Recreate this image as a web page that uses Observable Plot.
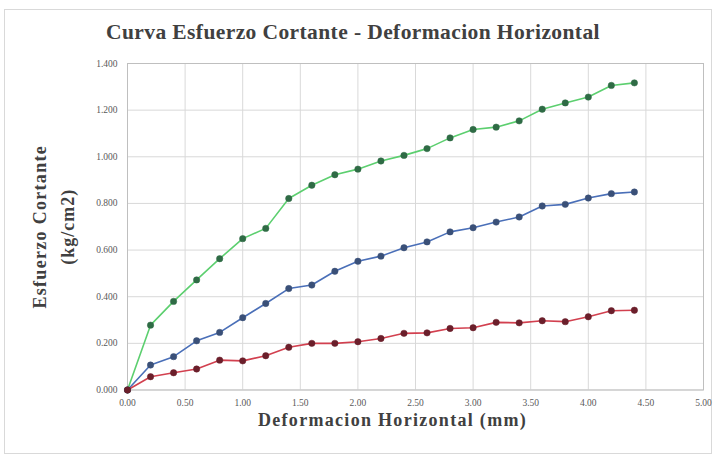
<!DOCTYPE html>
<html>
<head>
<meta charset="utf-8">
<script src="https://cdn.jsdelivr.net/npm/d3@7"></script>
<script src="https://cdn.jsdelivr.net/npm/@observablehq/plot@0.6"></script>
<style>
  html, body { margin: 0; padding: 0; background: #fff; }
  #wrap { position: relative; width: 718px; height: 461px; overflow: hidden; }
  #border { position: absolute; left: 4px; top: 9px; width: 708px; height: 445px; border: 1px solid #d9d9d9; box-sizing: border-box; }
  #title { position: absolute; left: -6px; width: 718px; top: 20px; text-align: center; letter-spacing: 0.4px;
    font-family: "Liberation Serif", serif; font-weight: bold; font-size: 21.5px; color: #404040; }
  #chart { position: absolute; left: 0; top: 0; }
</style>
</head>
<body>
<div id="wrap">
  <div id="border"></div>
  <div id="chart"></div>
  <div id="title">Curva Esfuerzo Cortante - Deformacion Horizontal</div>
</div>
<script>
const deformacion = [0, 0.2, 0.4, 0.6, 0.8, 1.0, 1.2, 1.4, 1.6, 1.8, 2.0, 2.2, 2.4, 2.6, 2.8, 3.0, 3.2, 3.4, 3.6, 3.8, 4.0, 4.2, 4.4];
const serieVerde = [0, 0.278, 0.380, 0.472, 0.563, 0.649, 0.693, 0.821, 0.878, 0.923, 0.947, 0.982, 1.006, 1.035, 1.081, 1.117, 1.127, 1.154, 1.204, 1.231, 1.256, 1.306, 1.317];
const serieAzul  = [0, 0.107, 0.143, 0.211, 0.247, 0.310, 0.371, 0.435, 0.450, 0.509, 0.552, 0.574, 0.610, 0.635, 0.678, 0.696, 0.720, 0.742, 0.789, 0.796, 0.823, 0.842, 0.849];
const serieRoja  = [0, 0.057, 0.074, 0.090, 0.128, 0.125, 0.147, 0.183, 0.200, 0.200, 0.207, 0.221, 0.243, 0.245, 0.264, 0.267, 0.290, 0.288, 0.297, 0.293, 0.314, 0.340, 0.342];
const xTicks = [0, 0.5, 1.0, 1.5, 2.0, 2.5, 3.0, 3.5, 4.0, 4.5, 5.0];
const yTicks = [0, 0.2, 0.4, 0.6, 0.8, 1.0, 1.2, 1.4];
const xTitle = "Deformacion Horizontal (mm)";
const yTitle1 = "Esfuerzo Cortante";
const yTitle2 = "(kg/cm2)";

const series = [
  {name: "Verde", values: serieVerde, line: "#5ccf6f", dot: "#2f6b45"},
  {name: "Azul", values: serieAzul, line: "#4a6fb8", dot: "#3a5078"},
  {name: "Roja", values: serieRoja, line: "#d2404f", dot: "#6b1f2b"}
];
const rows = series.flatMap(s => deformacion.map((x, i) => ({serie: s.name, x, y: s.values[i]})));

const font = "Liberation Serif, serif";
const labelStyle = {fontFamily: font, fontWeight: "bold", fontSize: 18, fill: "#404040", text: d => d};
const plot = Plot.plot({
  width: 718,
  height: 461,
  marginLeft: 127,
  marginRight: 15,
  marginTop: 63,
  marginBottom: 71.5,
  style: {fontFamily: font, fontSize: "9.5px", color: "#595959", background: "transparent"},
  x: {domain: [0, 5], ticks: xTicks, tickFormat: d3.format(".2f")},
  y: {domain: [0, 1.4], ticks: yTicks, tickFormat: d3.format(".3f")},
  color: {domain: series.map(s => s.name), range: series.map(s => s.line)},
  marks: [
    Plot.gridX(xTicks, {stroke: "#d9d9d9", strokeOpacity: 1}),
    Plot.gridY(yTicks, {stroke: "#d9d9d9", strokeOpacity: 1}),
    Plot.frame({stroke: "#bfbfbf"}),
    Plot.axisX({ticks: xTicks, tickSize: 0, tickPadding: 9, tickFormat: d3.format(".2f"), label: null}),
    Plot.axisY({ticks: yTicks, tickSize: 0, tickPadding: 10, tickFormat: d3.format(".3f"), label: null}),
    Plot.line(rows, {x: "x", y: "y", z: "serie", stroke: "serie", strokeWidth: 1.6}),
    ...series.map(s => Plot.dot(rows.filter(r => r.serie === s.name), {x: "x", y: "y", r: 3.2, fill: s.dot, stroke: s.dot, strokeWidth: 0.5})),
    Plot.text([xTitle], {...labelStyle, frameAnchor: "bottom", textAnchor: "middle", dx: -23, dy: 36}),
    Plot.text([yTitle1], {...labelStyle, frameAnchor: "left", textAnchor: "middle", dx: -87, dy: 0, rotate: -90}),
    Plot.text([yTitle2], {...labelStyle, frameAnchor: "left", textAnchor: "middle", dx: -59, dy: 0, rotate: -90})
  ]
});
plot.querySelectorAll("text").forEach(t => {
  const s = t.textContent;
  if (s === xTitle) t.style.letterSpacing = "1.3px";
  if (s === yTitle1) t.style.letterSpacing = "1.3px";
  if (s === yTitle2) t.style.letterSpacing = "1px";
});
document.getElementById("chart").appendChild(plot);
</script>
</body>
</html>
